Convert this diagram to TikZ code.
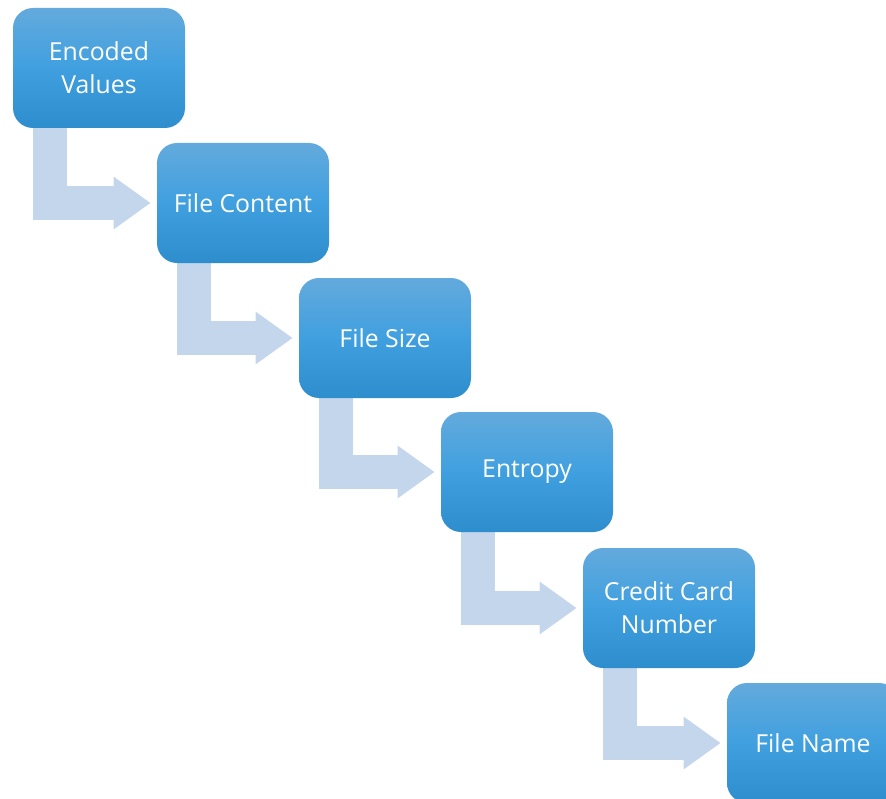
\documentclass[tikz,border=0pt]{standalone}
\usepackage{fontspec}
\setmainfont{Open Sans}
\usetikzlibrary{arrows.meta, calc, backgrounds}
\definecolor{ctop}{HTML}{63AADD}
\definecolor{cmid}{HTML}{40A0DF}
\definecolor{cbot}{HTML}{2E8DCD}
\definecolor{carrow}{HTML}{C4D6EC}
\tikzset{
  every picture/.style={x=0.75pt, y=-0.75pt},
  stepbox/.style={rounded corners=15pt, top color=ctop, bottom color=cbot, middle color=cmid,
    text=white, align=center, minimum width=129pt, minimum height=90pt, inner sep=0pt,
    font=\fontsize{18.6}{24.5}\selectfont},
  flow/.style={draw=carrow, line width=25.5pt, -{Triangle[length=27.75pt, width=37.5pt]}, shorten >=4.5pt},
}

\begin{document}
\begin{tikzpicture}
  \useasboundingbox (0,0) rectangle (886,799);
  \node[stepbox] (enc) at (99,68) {Encoded\\Values};
  \node[stepbox] (cont) at (243,203) {File Content};
  \node[stepbox] (size) at (385,338) {File Size};
  \node[stepbox] (ent) at (527,472) {Entropy};
  \node[stepbox] (ccn) at (669,608) {Credit Card\\Number};
  \node[stepbox] (name) at (813,743) {File Name};
  \begin{scope}[on background layer]
    \draw[flow] ($(enc.south west)+(37,0)$) |- (cont.west);
    \draw[flow] ($(cont.south west)+(37,0)$) |- (size.west);
    \draw[flow] ($(size.south west)+(37,0)$) |- (ent.west);
    \draw[flow] ($(ent.south west)+(37,0)$) |- (ccn.west);
    \draw[flow] ($(ccn.south west)+(37,0)$) |- (name.west);
  \end{scope}
\end{tikzpicture}
\end{document}
